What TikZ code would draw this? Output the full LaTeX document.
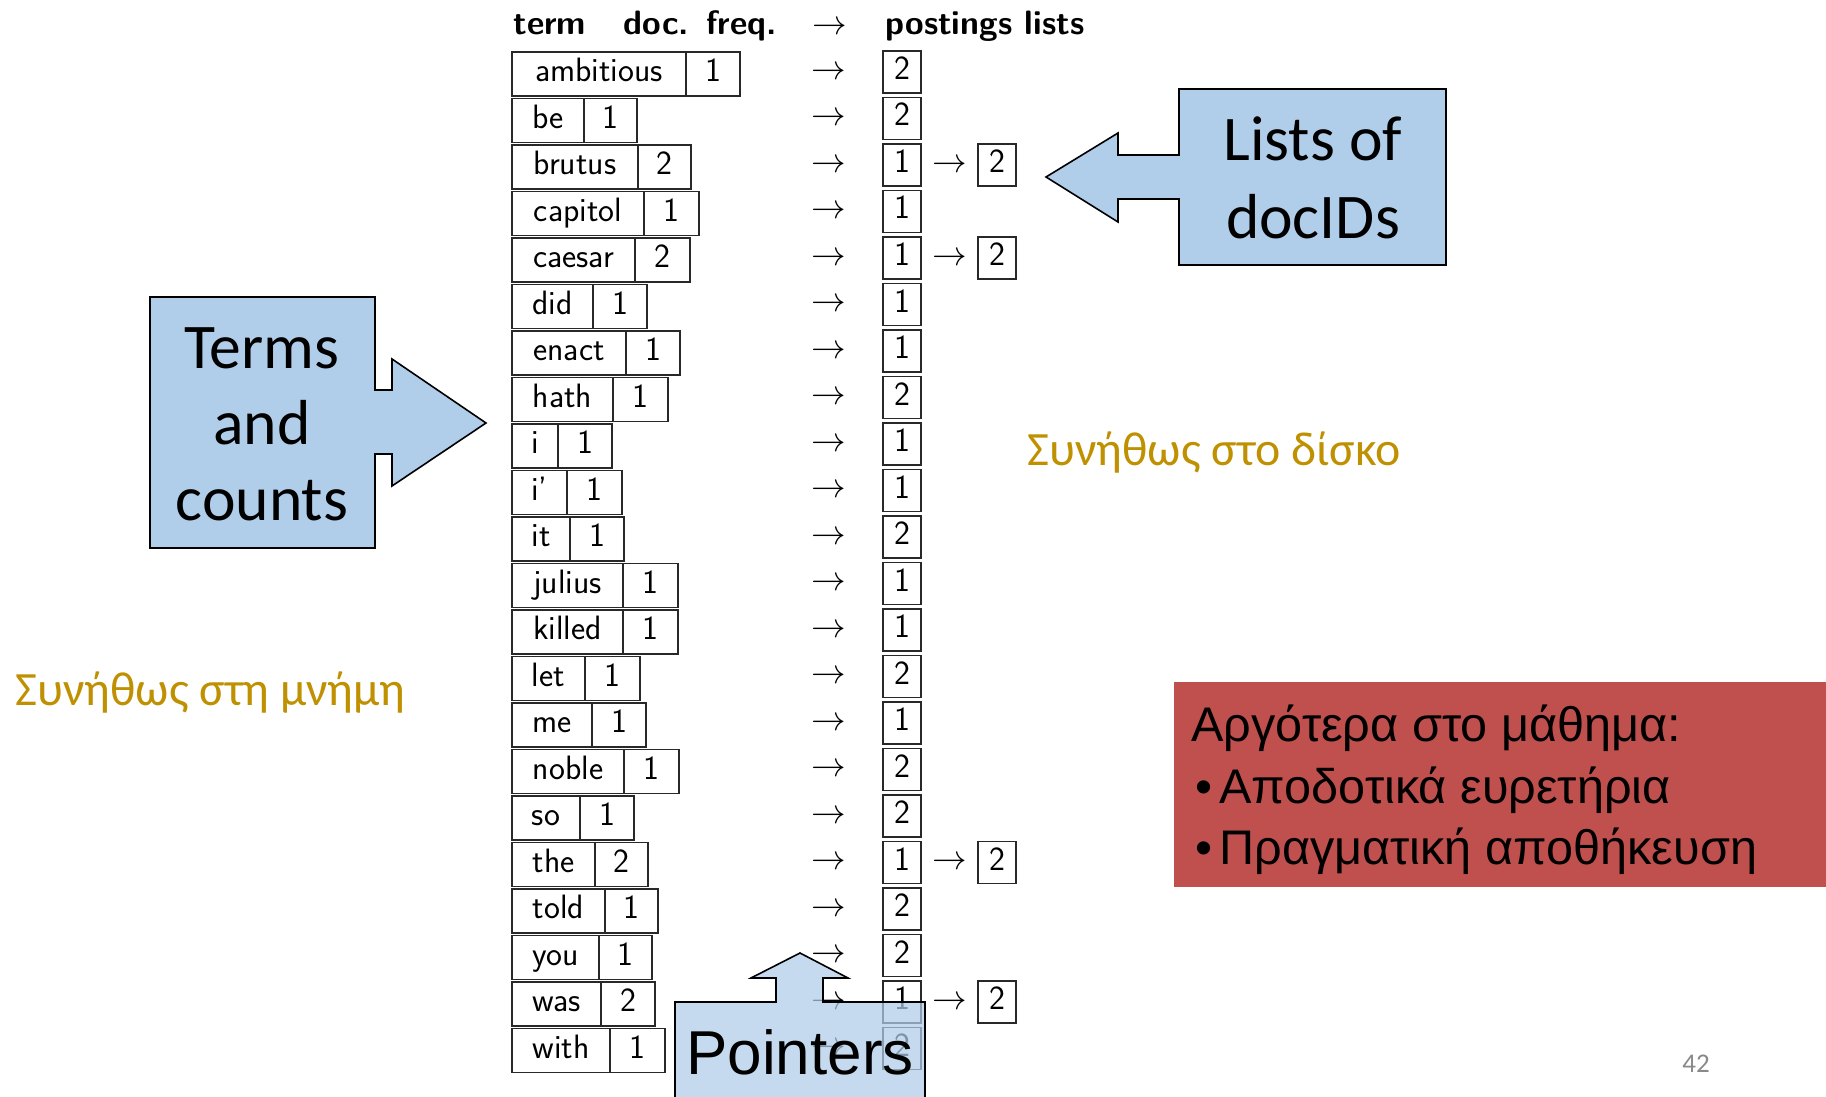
\documentclass[tikz,border=0pt]{standalone}
\usepackage{fontspec}
\newfontfamily\calibri{Carlito}
\newfontfamily\arial{Liberation Sans}
\newcommand\tblfont{\sffamily\fontsize{16.9}{20}\selectfont}
\definecolor{calloutblue}{RGB}{176,205,234}
\definecolor{gold}{RGB}{191,144,0}
\definecolor{slidered}{RGB}{192,80,77}
\definecolor{pagegray}{RGB}{137,137,137}
\definecolor{boxline}{RGB}{40,40,40}
\begin{document}
\begin{tikzpicture}[x=0.5pt,y=-0.5pt,
  cell/.style={draw=boxline, line width=0.75pt, inner sep=0pt, outer sep=0pt,
    minimum height=22pt, text height=11.5pt, text depth=4pt, font=\tblfont, anchor=west},
  postbox/.style={draw=boxline, line width=0.9pt, inner sep=0pt, outer sep=0pt,
    minimum width=19pt, minimum height=21pt, text height=11.5pt, text depth=4pt, font=\tblfont},
  ptr/.style={inner sep=0pt, font=\tblfont},
  head/.style={anchor=base west, inner sep=0pt, font=\tblfont\bfseries},
  callout/.style={draw=black, line width=0.8pt, fill=calloutblue},
  calltext/.style={anchor=base, inner sep=0pt, font=\calibri\fontsize{31.8}{38}\selectfont},
  goldtext/.style={anchor=base west, inner sep=0pt, text=gold, font=\calibri\fontsize{23.9}{28}\selectfont},
  redtext/.style={anchor=base west, inner sep=0pt, font=\arial\fontsize{24.3}{30}\selectfont},
]
\useasboundingbox (0,0) rectangle (1826,1097);
\fill[white] (0,0) rectangle (1826,1097);
\begin{scope}
\clip (0,0) rectangle (1826,1097);

% header
\node[head] (hterm) at (513,35) {term};
\node[head] (hdoc) at (623,35) {doc.};
\node[head] (hfreq) at (706,35) {freq.};
\node[anchor=base west, inner sep=0pt, font=\tblfont] (harr) at (812,35) {$\rightarrow$};
\node[head] (hpost) at (885,35) {postings lists};

% table rows
\foreach \t/\d/\r/\f/\p/\q [count=\i from 0] in {
ambitious/686/740/1/2/0,
be/584/637/1/2/0,
brutus/638/691/2/1/2,
capitol/644/699/1/1/0,
caesar/635/690/2/1/2,
did/593/647/1/1/0,
enact/626/680/1/1/0,
hath/613/668/1/2/0,
i/558/612/1/1/0,
i’/567/622/1/1/0,
it/570/624/1/2/0,
julius/623/678/1/1/0,
killed/623/678/1/1/0,
let/585/640/1/2/0,
me/592/646/1/1/0,
noble/624/679/1/2/0,
so/580/634/1/2/0,
the/595/648/2/1/2,
told/605/658/1/2/0,
you/599/652/1/2/0,
was/601/655/2/1/2,
with/610/665/1/2/0}
{
  \pgfmathsetmacro\yc{74+46.5*\i}
  \pgfmathsetmacro\wt{(\d-512)/2}
  \pgfmathsetmacro\wf{(\r-\d)/2}
  \node[cell, minimum width=\wt pt] (t\i) at (512,\yc) {\t};
  \node[cell, minimum width=\wf pt] (f\i) at (t\i.east) {\f};
  \node[ptr] (a\i) at (829,\yc-1) {$\rightarrow$};
  \node[postbox] (p\i) at (902,\yc-2) {\p};
  \ifnum\q>0
    \node[ptr] (b\i) at (949.5,\yc-1) {$\rightarrow$};
    \node[postbox] (q\i) at (997,\yc-2) {\q};
  \fi
}

% Terms and counts callout
\path[callout] (150,297) -- (375,297) -- (375,390) -- (392,390) -- (392,359)
  -- (486,423) -- (392,486) -- (392,454) -- (375,454) -- (375,548) -- (150,548) -- cycle;
\node[calltext] (terms1) at (262,368) {Terms};
\node[calltext] (terms2) at (262,444) {and};
\node[calltext] (terms3) at (262,520) {counts};

% Lists of docIDs callout
\path[callout] (1179,89) -- (1446,89) -- (1446,265) -- (1179,265) -- (1179,199)
  -- (1118,199) -- (1118,222) -- (1046,177) -- (1118,133) -- (1118,155) -- (1179,155) -- cycle;
\node[calltext] (lists1) at (1313,161) {Lists of};
\node[calltext] (lists2) at (1313,238) {docIDs};

% gold notes
\node[goldtext] (disk) at (1027,465) {Συνήθως στο δίσκο};
\node[goldtext] (mem) at (15,705) {Συνήθως στη μνήμη};

% red box
\node[fill=slidered, minimum width=326pt, minimum height=102.5pt, anchor=north west,
  inner sep=0pt, outer sep=0pt] (later) at (1174,682) {};
\node[redtext] (l1) at (1191,741) {Αργότερα στο μάθημα:};
\node[redtext] (bul2) at (1195,803) {•};
\node[redtext] (l2) at (1219,803) {Αποδοτικά ευρετήρια};
\node[redtext] (bul3) at (1195,864) {•};
\node[redtext] (l3) at (1219,864) {Πραγματική αποθήκευση};

% Pointers callout
\path[callout, fill opacity=0.72] (675,1130) -- (675,1002) -- (776,1002) -- (776,978)
  -- (751,978) -- (800,953) -- (848,978) -- (823,978) -- (823,1002) -- (925,1002)
  -- (925,1130) -- cycle;
\node[anchor=base west, inner sep=0pt, font=\arial\fontsize{31}{36}\selectfont] (ptrtxt) at (686,1074) {Pointers};

% page number
\node[anchor=base west, inner sep=0pt, text=pagegray, font=\calibri\fontsize{13.5}{16}\selectfont] (pgnum) at (1682,1072) {42};
\end{scope}
\end{tikzpicture}
\end{document}
